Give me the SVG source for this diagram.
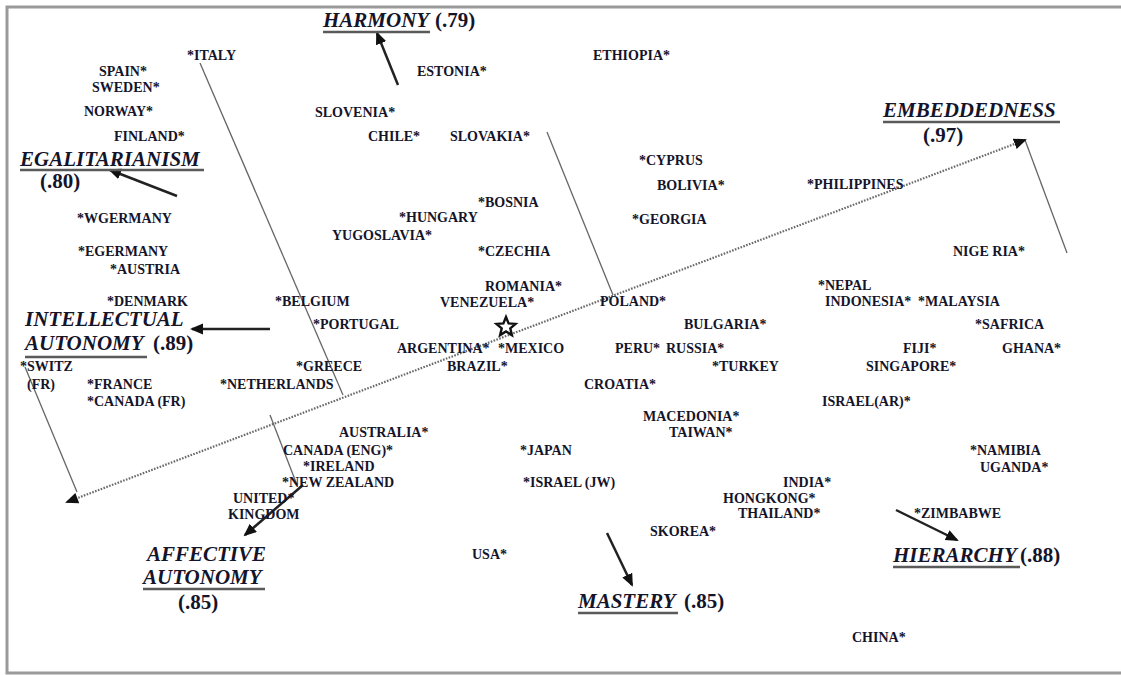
<svg xmlns="http://www.w3.org/2000/svg" width="1121" height="675" viewBox="0 0 1121 675">
<style>
.c{font-family:"Liberation Serif","Times New Roman",serif;font-weight:bold;font-size:14px;fill:#14142a}
.ax{font-family:"Liberation Serif","Times New Roman",serif;font-weight:bold;font-style:italic;font-size:21px;fill:#14142a}
.v{font-family:"Liberation Serif","Times New Roman",serif;font-weight:bold;font-size:21px;fill:#14142a}
.ul{stroke:#5a5a5a;stroke-width:2.5}
.arr{stroke:#222;stroke-width:2.5;fill:none;marker-end:url(#ah)}
.thin{stroke:#666;stroke-width:1.3;fill:none}
.dot{stroke:#6a6a6a;stroke-width:2.2;stroke-dasharray:1.6 1.4;fill:none;marker-end:url(#ah2);marker-start:url(#ah2s)}
.frame{stroke:#9a9a9a;stroke-width:3;fill:none}
</style>
<defs>
<marker id="ah" markerUnits="userSpaceOnUse" markerWidth="14" markerHeight="12" refX="11" refY="5.5" orient="auto"><path d="M0,0 L13,5.5 L0,11 z" fill="#111"/></marker>
<marker id="ah2" markerUnits="userSpaceOnUse" markerWidth="14" markerHeight="12" refX="11" refY="5.5" orient="auto"><path d="M0,0 L13,5.5 L0,11 z" fill="#111"/></marker>
<marker id="ah2s" markerUnits="userSpaceOnUse" markerWidth="14" markerHeight="12" refX="2" refY="5.5" orient="auto"><path d="M13,0 L0,5.5 L13,11 z" fill="#111"/></marker>
</defs>
<rect width="1121" height="675" fill="#fff"/>
<path class="frame" d="M1121,7 L7,7 L7,673 L1121,673"/>

<g id="connectors">
<line class="thin" x1="200" y1="63" x2="343" y2="395"/>
<line class="thin" x1="547" y1="132" x2="613" y2="295"/>
<line class="thin" x1="1067" y1="253" x2="1025" y2="140"/>
<line class="thin" x1="25" y1="367" x2="77" y2="492"/>
<line class="thin" x1="270" y1="415" x2="297" y2="485"/>
<line class="dot" x1="67" y1="502" x2="1025" y2="140"/>
<line class="arr" x1="398" y1="85" x2="377" y2="33"/>
<line class="arr" x1="177" y1="196" x2="110" y2="170"/>
<line class="arr" x1="270" y1="329" x2="192" y2="329"/>
<line class="arr" x1="303" y1="485" x2="245" y2="535"/>
<line class="arr" x1="607" y1="533" x2="632" y2="585"/>
<line class="arr" x1="896" y1="510" x2="957" y2="540"/>
</g>

<g id="centroid"><polygon points="506,317 508.6,323.4 515.5,323.9 510.3,328.4 511.9,335.1 506,331.5 500.1,335.1 501.7,328.4 496.5,323.9 503.4,323.4" fill="#fff" stroke="#111" stroke-width="2.4" stroke-linejoin="miter"/></g>

<g id="harmony"><text class="ax" x="323" y="27">HARMONY</text><text class="v" x="435" y="27">(.79)</text><line class="ul" x1="323" y1="32" x2="430" y2="32"/></g>
<g id="egalitarianism"><text class="ax" x="20" y="166">EGALITARIANISM</text><line class="ul" x1="20" y1="170" x2="204" y2="170"/><text class="v" x="40" y="188">(.80)</text></g>
<g id="embeddedness"><text class="ax" x="883" y="117">EMBEDDEDNESS</text><line class="ul" x1="883" y1="122" x2="1060" y2="122"/><text class="v" x="923" y="142">(.97)</text></g>
<g id="intellectual-autonomy"><text class="ax" x="25" y="326">INTELLECTUAL</text><text class="ax" x="25" y="350">AUTONOMY</text><text class="v" x="153" y="350">(.89)</text><line class="ul" x1="25" y1="357" x2="147" y2="357"/></g>
<g id="affective-autonomy"><text class="ax" x="147" y="561">AFFECTIVE</text><text class="ax" x="143" y="584">AUTONOMY</text><line class="ul" x1="143" y1="589" x2="265" y2="589"/><text class="v" x="178" y="609">(.85)</text></g>
<g id="mastery"><text class="ax" x="578" y="608">MASTERY</text><text class="v" x="684" y="608">(.85)</text><line class="ul" x1="578" y1="613" x2="678" y2="613"/></g>
<g id="hierarchy"><text class="ax" x="893" y="562">HIERARCHY</text><text class="v" x="1020" y="562">(.88)</text><line class="ul" x1="893" y1="567" x2="1020" y2="567"/></g>

<g id="italy"><text class="c" x="187" y="60">*ITALY</text></g>
<g id="spain"><text class="c" x="99" y="76">SPAIN*</text></g>
<g id="sweden"><text class="c" x="92" y="92">SWEDEN*</text></g>
<g id="norway"><text class="c" x="84" y="116">NORWAY*</text></g>
<g id="finland"><text class="c" x="114" y="141">FINLAND*</text></g>
<g id="wgermany"><text class="c" x="77" y="223">*WGERMANY</text></g>
<g id="egermany"><text class="c" x="78" y="256">*EGERMANY</text></g>
<g id="austria"><text class="c" x="110" y="274">*AUSTRIA</text></g>
<g id="denmark"><text class="c" x="107" y="306">*DENMARK</text></g>
<g id="belgium"><text class="c" x="275" y="306">*BELGIUM</text></g>
<g id="switz"><text class="c" x="20" y="371">*SWITZ</text><text class="c" x="27" y="389">(FR)</text></g>
<g id="france"><text class="c" x="87" y="389">*FRANCE</text></g>
<g id="canada-fr"><text class="c" x="87" y="406">*CANADA (FR)</text></g>
<g id="netherlands"><text class="c" x="220" y="389">*NETHERLANDS</text></g>
<g id="estonia"><text class="c" x="417" y="76">ESTONIA*</text></g>
<g id="slovenia"><text class="c" x="315" y="117">SLOVENIA*</text></g>
<g id="chile"><text class="c" x="368" y="141">CHILE*</text></g>
<g id="slovakia"><text class="c" x="450" y="141">SLOVAKIA*</text></g>
<g id="bosnia"><text class="c" x="478" y="207">*BOSNIA</text></g>
<g id="hungary"><text class="c" x="399" y="222">*HUNGARY</text></g>
<g id="yugoslavia"><text class="c" x="332" y="240">YUGOSLAVIA*</text></g>
<g id="czechia"><text class="c" x="478" y="256">*CZECHIA</text></g>
<g id="romania"><text class="c" x="485" y="291">ROMANIA*</text></g>
<g id="venezuela"><text class="c" x="440" y="307">VENEZUELA*</text></g>
<g id="portugal"><text class="c" x="313" y="329">*PORTUGAL</text></g>
<g id="argentina"><text class="c" x="397" y="353">ARGENTINA*</text></g>
<g id="mexico"><text class="c" x="498" y="353">*MEXICO</text></g>
<g id="greece"><text class="c" x="296" y="371">*GREECE</text></g>
<g id="brazil"><text class="c" x="447" y="371">BRAZIL*</text></g>
<g id="australia"><text class="c" x="339" y="437">AUSTRALIA*</text></g>
<g id="canada-eng"><text class="c" x="283" y="455">CANADA (ENG)*</text></g>
<g id="ireland"><text class="c" x="303" y="471">*IRELAND</text></g>
<g id="new-zealand"><text class="c" x="282" y="487">*NEW ZEALAND</text></g>
<g id="united-kingdom"><text class="c" x="233" y="503">UNITED*</text><text class="c" x="228" y="519">KINGDOM</text></g>
<g id="usa"><text class="c" x="472" y="559">USA*</text></g>
<g id="japan"><text class="c" x="520" y="455">*JAPAN</text></g>
<g id="israel-jw"><text class="c" x="523" y="487">*ISRAEL (JW)</text></g>
<g id="ethiopia"><text class="c" x="593" y="60">ETHIOPIA*</text></g>
<g id="cyprus"><text class="c" x="639" y="165">*CYPRUS</text></g>
<g id="bolivia"><text class="c" x="657" y="190">BOLIVIA*</text></g>
<g id="georgia"><text class="c" x="632" y="224">*GEORGIA</text></g>
<g id="philippines"><text class="c" x="807" y="189">*PHILIPPINES</text></g>
<g id="poland"><text class="c" x="600" y="306">POLAND*</text></g>
<g id="bulgaria"><text class="c" x="684" y="329">BULGARIA*</text></g>
<g id="peru"><text class="c" x="615" y="353">PERU*</text></g>
<g id="russia"><text class="c" x="666" y="353">RUSSIA*</text></g>
<g id="turkey"><text class="c" x="712" y="371">*TURKEY</text></g>
<g id="croatia"><text class="c" x="584" y="389">CROATIA*</text></g>
<g id="macedonia"><text class="c" x="643" y="421">MACEDONIA*</text></g>
<g id="taiwan"><text class="c" x="669" y="437">TAIWAN*</text></g>
<g id="nepal"><text class="c" x="818" y="290">*NEPAL</text></g>
<g id="indonesia"><text class="c" x="825" y="306">INDONESIA*</text></g>
<g id="malaysia"><text class="c" x="918" y="306">*MALAYSIA</text></g>
<g id="israel-ar"><text class="c" x="822" y="406">ISRAEL(AR)*</text></g>
<g id="nigeria"><text class="c" x="953" y="256">NIGE RIA*</text></g>
<g id="safrica"><text class="c" x="975" y="329">*SAFRICA</text></g>
<g id="fiji"><text class="c" x="903" y="353">FIJI*</text></g>
<g id="ghana"><text class="c" x="1002" y="353">GHANA*</text></g>
<g id="singapore"><text class="c" x="866" y="371">SINGAPORE*</text></g>
<g id="namibia"><text class="c" x="970" y="455">*NAMIBIA</text></g>
<g id="uganda"><text class="c" x="980" y="472">UGANDA*</text></g>
<g id="india"><text class="c" x="783" y="487">INDIA*</text></g>
<g id="hongkong"><text class="c" x="723" y="503">HONGKONG*</text></g>
<g id="thailand"><text class="c" x="738" y="518">THAILAND*</text></g>
<g id="skorea"><text class="c" x="650" y="536">SKOREA*</text></g>
<g id="zimbabwe"><text class="c" x="914" y="518">*ZIMBABWE</text></g>
<g id="china"><text class="c" x="852" y="642">CHINA*</text></g>
</svg>
